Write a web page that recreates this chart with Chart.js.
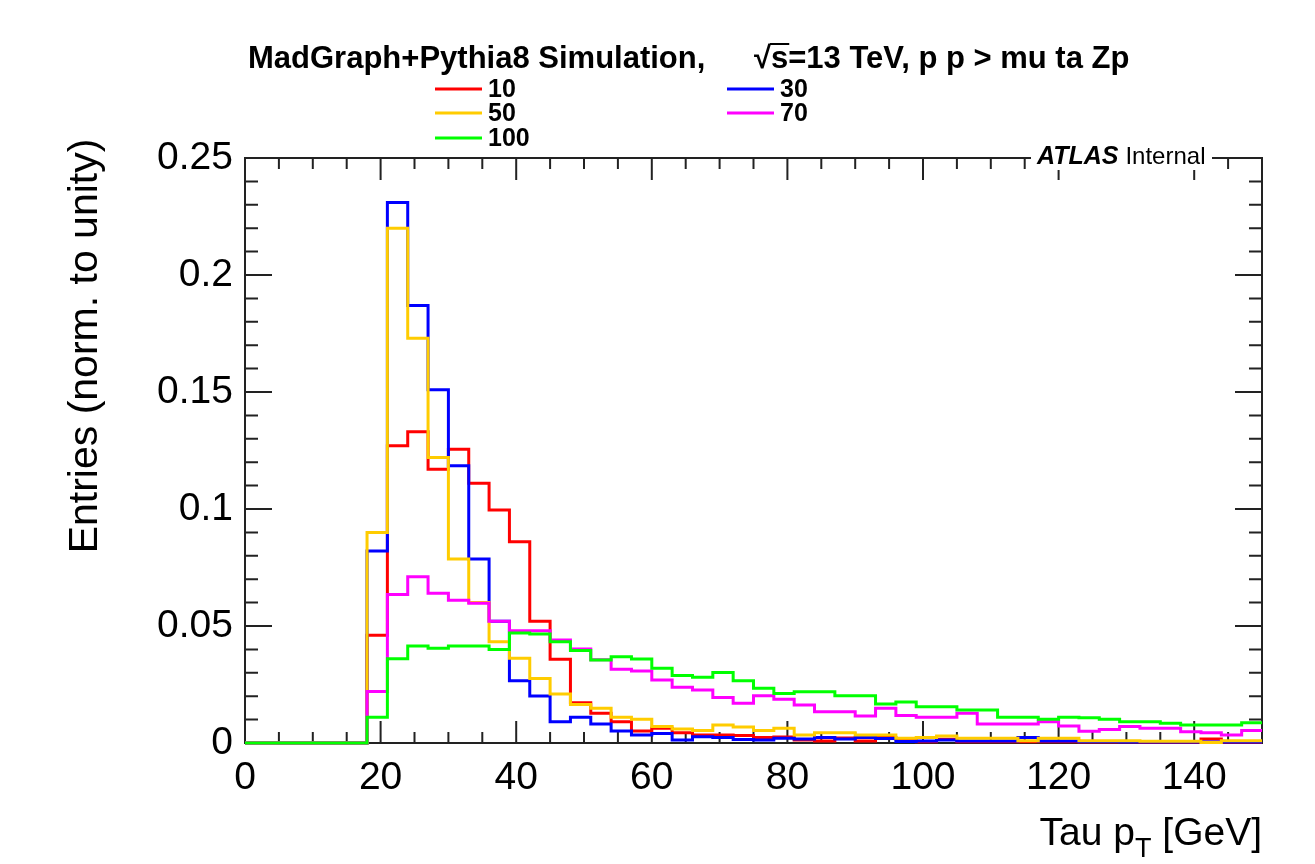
<!DOCTYPE html>
<html>
<head>
<meta charset="utf-8">
<script src="https://cdn.jsdelivr.net/npm/chart.js@4.4.1/dist/chart.umd.min.js"></script>
<style>
  html, body { margin: 0; padding: 0; background: #fff; }
  #grafico { display: block; }
</style>
</head>
<body>
<canvas id="grafico" width="1315" height="864"></canvas>
<script>
// bins de 3 GeV entre 0 y 150
const anchoBin = 3;
const bordesBin = Array.from({length: 51}, (_, i) => i * anchoBin);

const etiquetasLeyenda = ['10', '30', '50', '70', '100'];
const ticksX = [0, 20, 40, 60, 80, 100, 120, 140];
const ticksY = [0, 0.05, 0.1, 0.15, 0.2, 0.25];

const masa10 = [0,0,0,0,0,0, 0.046,0.127,0.133,0.117,0.1255,0.111,0.0996,0.086,0.052,0.0358,
  0.0172,0.0127,0.0091,0.0051,0.0063,0.0044,0.0034,0.0034,0.0032,0.0024,0.0026,0.0013,0.0009,0.0021,
  0.0009,0.0024,0.0017,0.0005,0.0016,0.0005,0.0005,0.0005,0.0005,0.0005,0.0005,0.0004,0.0004,0.0004,
  0.0003,0.0003,0.0003,0.0017,0.0003,0.0003];
const masa30 = [0,0,0,0,0,0, 0.082,0.231,0.187,0.151,0.1185,0.0786,0.052,0.0266,0.0201,0.0091,
  0.011,0.0081,0.0051,0.0034,0.0041,0.0013,0.0027,0.0023,0.0015,0.0013,0.002,0.0017,0.0023,0.0017,
  0.0023,0.0019,0.0006,0.0009,0.0013,0.0009,0.0009,0.0009,0.0023,0.0009,0.0009,0.0005,0.0005,0.0004,
  0.0004,0.0004,0.0004,0.0004,0.0004,0.0004];
const masa50 = [0,0,0,0,0,0, 0.090,0.220,0.173,0.122,0.0786,0.060,0.0433,0.0362,0.0276,0.0209,
  0.0165,0.0148,0.011,0.0101,0.007,0.006,0.0053,0.0077,0.0068,0.0053,0.0063,0.0034,0.0044,0.0044,
  0.0034,0.0034,0.002,0.0023,0.003,0.002,0.002,0.002,0.001,0.002,0.002,0.001,0.001,0.001,
  0.0008,0.0008,0.0008,0.0002,0.001,0.001];
const masa70 = [0,0,0,0,0,0, 0.022,0.0635,0.071,0.064,0.061,0.0597,0.052,0.048,0.048,0.044,
  0.0402,0.0356,0.0315,0.0308,0.0269,0.0238,0.0226,0.0194,0.017,0.0202,0.0187,0.0162,0.0134,0.0134,
  0.0115,0.0148,0.0118,0.011,0.011,0.0127,0.0081,0.0081,0.0081,0.0091,0.0073,0.005,0.0058,0.007,
  0.0063,0.0063,0.0048,0.0044,0.0034,0.0053];
const masa100 = [0,0,0,0,0,0, 0.011,0.036,0.0415,0.0405,0.0415,0.0415,0.040,0.047,0.0466,0.0433,
  0.0395,0.0355,0.0369,0.0359,0.0319,0.0288,0.0281,0.0301,0.0266,0.0234,0.0212,0.0219,0.0219,0.0202,
  0.0202,0.0167,0.0175,0.0155,0.0155,0.0141,0.0141,0.011,0.011,0.0101,0.011,0.0108,0.0101,0.0091,
  0.0091,0.0084,0.0077,0.0077,0.0077,0.0087];

const colores = ['#ff0000', '#0000ff', '#ffcc00', '#ff00ff', '#00ff00'];
const series = [masa10, masa30, masa50, masa70, masa100];
const ordenDibujo = [4, 3, 2, 1, 0]; // verde encima de todo

const fuente = '"Liberation Sans", Arial, Helvetica, sans-serif';

// pasa los valores por bin a puntos en los bordes (histograma escalonado)
function aEscalones(valores){
  return bordesBin.map((x, i) => ({x: x, y: valores[Math.min(i, valores.length - 1)]}));
}

const marcoRoot = {
  id: 'marcoRoot',
  beforeDatasetsDraw(chart){
    const {ctx, chartArea: a, scales: {x, y}} = chart;
    ctx.save();
    ctx.strokeStyle = '#222';
    ctx.lineWidth = 2;
    ctx.strokeRect(a.left, a.top, a.right - a.left, a.bottom - a.top);
    ctx.beginPath();
    // ticks del eje x (abajo y arriba)
    for (let v = 0; v <= 150; v += 5){
      const px = x.getPixelForValue(v);
      const largo = (v % 20 === 0) ? 22 : 11;
      ctx.moveTo(px, a.bottom); ctx.lineTo(px, a.bottom - largo);
      ctx.moveTo(px, a.top); ctx.lineTo(px, a.top + largo);
    }
    // ticks del eje y (izquierda y derecha)
    for (let k = 0; k <= 25; k++){
      const py = y.getPixelForValue(k / 100);
      const largo = (k % 5 === 0) ? 27 : 13;
      ctx.moveTo(a.left, py); ctx.lineTo(a.left + largo, py);
      ctx.moveTo(a.right, py); ctx.lineTo(a.right - largo, py);
    }
    ctx.stroke();
    ctx.restore();
  },
  afterDraw(chart){
    const {ctx, chartArea: a} = chart;
    ctx.save();
    ctx.fillStyle = '#000';

    // encabezado
    ctx.font = 'bold 31px ' + fuente;
    ctx.textBaseline = 'alphabetic';
    ctx.textAlign = 'left';
    ctx.fillText('MadGraph+Pythia8 Simulation,', 248, 68);
    const raiz = '\u221A';
    ctx.fillText(raiz + 's=13 TeV, p p > mu ta Zp', 754, 68);
    const xs = 754 + ctx.measureText(raiz).width;
    const ws = ctx.measureText('s').width;
    ctx.fillRect(xs - 1, 43, ws + 2, 2);

    // leyenda en dos columnas
    const posLeyenda = [[435, 89], [727, 89], [435, 113], [727, 113], [435, 138]];
    ctx.font = 'bold 25px ' + fuente;
    ctx.textBaseline = 'middle';
    etiquetasLeyenda.forEach((txt, i) => {
      const [lx, ly] = posLeyenda[i];
      ctx.strokeStyle = colores[i];
      ctx.lineWidth = 3;
      ctx.beginPath(); ctx.moveTo(lx, ly); ctx.lineTo(lx + 47, ly); ctx.stroke();
      ctx.fillText(txt, lx + 53, ly + 1);
    });

    // ATLAS Internal tapando el marco
    ctx.fillStyle = '#fff';
    ctx.fillRect(1031, 144, 181, 26);
    ctx.fillStyle = '#000';
    ctx.textBaseline = 'alphabetic';
    ctx.font = 'italic bold 25px ' + fuente;
    ctx.fillText('ATLAS', 1037, 164);
    const anchoAtlas = ctx.measureText('ATLAS ').width;
    ctx.font = '24px ' + fuente;
    ctx.fillText('Internal', 1037 + anchoAtlas, 164);

    // titulo eje y
    ctx.font = '41px ' + fuente;
    ctx.save();
    ctx.translate(97, 346);
    ctx.rotate(-Math.PI / 2);
    ctx.textAlign = 'center';
    ctx.fillText('Entries (norm. to unity)', 0, 0);
    ctx.restore();

    // titulo eje x con subindice
    ctx.textAlign = 'left';
    const partes = [['Tau p', 39, 0], ['T', 27, 12], [' [GeV]', 39, 0]];
    let total = 0;
    partes.forEach(p => { ctx.font = p[1] + 'px ' + fuente; total += ctx.measureText(p[0]).width; });
    let cx = a.right - total;
    partes.forEach(p => {
      ctx.font = p[1] + 'px ' + fuente;
      ctx.fillText(p[0], cx, 845 + p[2]);
      cx += ctx.measureText(p[0]).width;
    });
    ctx.restore();
  }
};

const conjuntos = series.map((vals, i) => ({
  label: etiquetasLeyenda[i],
  data: aEscalones(vals),
  borderColor: colores[i],
  borderWidth: 3,
  stepped: 'before',
  pointRadius: 0,
  fill: false,
  clip: 4,
  order: ordenDibujo[i]
}));

const grafico = new Chart(document.getElementById('grafico'), {
  type: 'line',
  data: { datasets: conjuntos },
  plugins: [marcoRoot],
  options: {
    responsive: false,
    animation: false,
    devicePixelRatio: 1,
    parsing: false,
    layout: { padding: { left: 0, right: 53, top: 158, bottom: 0 } },
    plugins: { legend: { display: false }, tooltip: { enabled: false } },
    scales: {
      x: {
        type: 'linear', min: 0, max: 150,
        grid: { display: false }, border: { display: false },
        afterBuildTicks: s => { s.ticks = ticksX.map(v => ({value: v})); },
        afterFit: s => { s.height = 121; },
        ticks: { color: '#000', font: { family: fuente, size: 39 }, padding: 4, maxRotation: 0, autoSkip: false }
      },
      y: {
        type: 'linear', min: 0, max: 0.25,
        grid: { display: false }, border: { display: false },
        afterBuildTicks: s => { s.ticks = ticksY.map(v => ({value: v})); },
        afterFit: s => { s.width = 245; },
        ticks: {
          color: '#000', font: { family: fuente, size: 39 }, padding: 4, autoSkip: false,
          callback: v => String(Number(v.toFixed(2)))
        }
      }
    }
  }
});
</script>
</body>
</html>
